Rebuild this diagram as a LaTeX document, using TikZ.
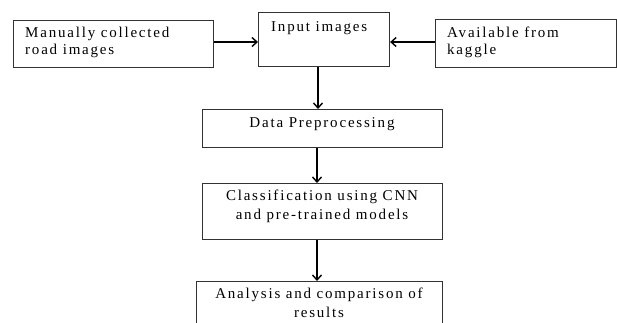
\documentclass[tikz,border=0pt]{standalone}
\usepackage{fontspec}
\setmainfont[LetterSpace=12]{Liberation Serif}
\usetikzlibrary{arrows.meta}
\begin{document}
\begin{tikzpicture}[x=1pt,y=-1pt,
  box/.style={draw=black!80, line width=1.1pt, inner sep=0pt, anchor=north west},
  txt/.style={inner sep=0pt, font=\fontsize{15}{17}\selectfont, align=left},
  ctxt/.style={inner sep=0pt, font=\fontsize{15}{19}\selectfont, align=center},
  flow/.style={line width=1.6pt, -{Straight Barb[length=5pt,width=9pt,line width=1.4pt]}}]
  \useasboundingbox (0,0) rectangle (617,322);
  \clip (0,0) rectangle (617,322);

  % source boxes and the input box
  \node[box, minimum width=200pt, minimum height=47pt] (man) at (13,20) {};
  \node[txt, anchor=north west] (mant) at (25,27) {Manually collected\\road images};

  \node[box, minimum width=131pt, minimum height=54pt] (inp) at (258,12) {};
  \node[txt, anchor=north west] (inpt) at (271,21) {Input images};

  \node[box, minimum width=181pt, minimum height=48pt] (kag) at (435,19) {};
  \node[txt, anchor=north west] (kagt) at (447,27) {Available from\\kaggle};

  % processing chain
  \node[box, minimum width=240pt, minimum height=38pt] (pre) at (202,109) {};
  \node[ctxt, anchor=north] (pret) at (322,117) {Data Preprocessing};

  \node[box, minimum width=240pt, minimum height=56pt] (cls) at (202,183) {};
  \node[ctxt, anchor=north] (clst) at (322,190) {Classification using CNN\\and pre-trained models};

  \node[box, minimum width=246pt, minimum height=60pt] (ana) at (196,281) {};
  \node[ctxt, anchor=north] (anat) at (319,288) {Analysis and comparison of\\results};

  % connectors
  \draw[flow] (man.east |- 0,42) -- (inp.west |- 0,42);
  \draw[flow] (kag.west |- 0,42) -- (inp.east |- 0,42);
  \draw[flow] (inp.south -| 318,0) -- (pre.north -| 318,0);
  \draw[flow] (pre.south -| 317,0) -- (cls.north -| 317,0);
  \draw[flow] (cls.south -| 317,0) -- (ana.north -| 317,0);
\end{tikzpicture}
\end{document}
